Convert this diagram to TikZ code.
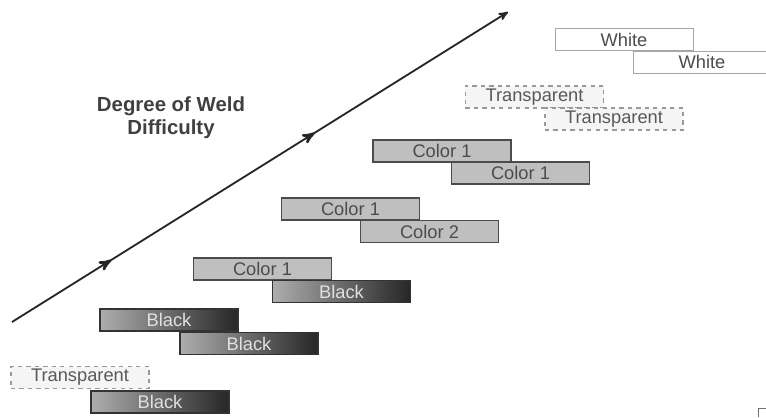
\documentclass[tikz,border=0pt]{standalone}
\usepackage{fontspec}
\setmainfont{Liberation Sans}
\usetikzlibrary{arrows,decorations.markings}

\begin{document}
\begin{tikzpicture}[x=0.025cm,y=-0.025cm,>=stealth',
                    box/.style={rectangle,minimum width=3.45cm,minimum height=0.55cm,inner sep=0pt,
                                line width=0.8pt,font=\fontsize{13}{14}\selectfont},
                    black box/.style={box,draw=black!80,left color=black!32,middle color=black!60,
                                      right color=black!85,text=black!12},
                    color box/.style={box,draw=black!70,fill=black!25,text=black!70},
                    clear box/.style={box,draw=black!40,dashed,fill=black!4,text=black!65},
                    white box/.style={box,draw=black!35,line width=0.5pt,fill=white,text=black!70}]

  \clip (0,0) rectangle (766,417);

  % the axis
  \coordinate (start) at (12,322);
  \coordinate (end) at (508,12);
  \draw[->,line width=1.3pt,black!85,
        postaction={decorate},
        decoration={markings,
                    mark=at position 0.2 with {\arrow[scale=1.3]{stealth'}},
                    mark=at position 0.61 with {\arrow[scale=1.3]{stealth'}}}]
    (start) -- (end);

  \node[font=\fontsize{14.5}{16.5}\selectfont\bfseries,text=black!75,align=center] (title)
    at (171,118) {Degree of Weld\\Difficulty};

  % pairs, from easy to hard
  \node[clear box] (t0) at (80,377.5) {Transparent};
  \node[black box] (b0) at (160,402) {Black};

  \node[black box] (b1) at (169,320) {Black};
  \node[black box] (b2) at (249,343.5) {Black};

  \node[color box] (c1) at (262.5,269) {Color 1};
  \node[black box] (b3) at (341.5,291.5) {Black};

  \node[color box] (c2) at (350.5,209) {Color 1};
  \node[color box] (c3) at (429.5,231.5) {Color 2};

  \node[color box] (c4) at (442,151) {Color 1};
  \node[color box] (c5) at (520.5,173) {Color 1};

  \node[clear box] (t1) at (534.5,97) {Transparent};
  \node[clear box] (t2) at (614,119) {Transparent};

  \node[white box] (w1) at (624,39.5) {White};
  \node[white box] (w2) at (702,62) {White};

  % corner mark
  \draw[black!55,line width=0.5pt] (758,417) -- (758,408) -- (766,408);
\end{tikzpicture}
\end{document}
